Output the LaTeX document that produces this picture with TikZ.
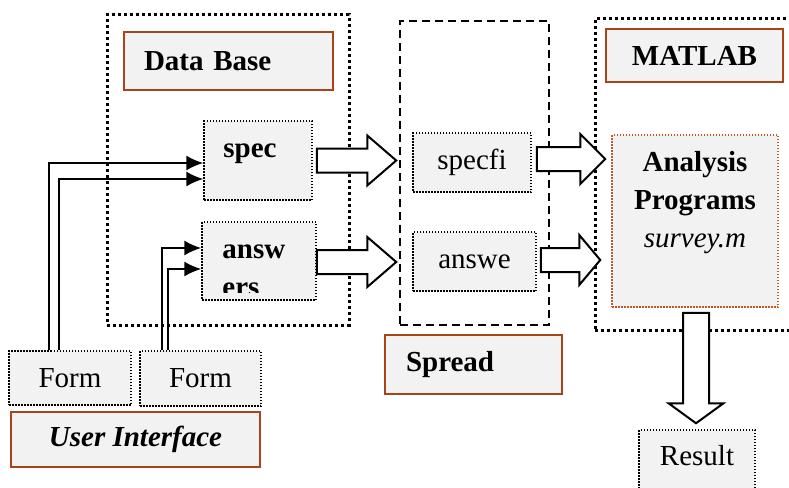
\documentclass[tikz,border=0pt]{standalone}
\usepackage{fontspec}
\setmainfont{Liberation Serif}
\usepackage{tikz}
\usetikzlibrary{calc,arrows.meta,positioning}
\definecolor{boxgray}{RGB}{242,242,242}
\definecolor{rust}{RGB}{168,68,24}
\definecolor{rustlight}{RGB}{196,88,36}
% fat arrow to the right: start, tip, head length
\newcommand{\fatright}[3]{%
  \draw[fat] let \p1=(#1), \p2=(#2) in
    (\x1,\y1+12pt) -- (\x2-#3pt,\y1+12pt) -- (\x2-#3pt,\y1+25pt) -- (\x2,\y1)
    -- (\x2-#3pt,\y1-25pt) -- (\x2-#3pt,\y1-12pt) -- (\x1,\y1-12pt) -- cycle;}
% fat arrow downwards: start, tip, head length
\newcommand{\fatdown}[3]{%
  \draw[fat] let \p1=(#1), \p2=(#2) in
    (\x1-13pt,\y1) -- (\x1-13pt,\y2+#3pt) -- (\x1-27.5pt,\y2+#3pt) -- (\x1,\y2)
    -- (\x1+27.5pt,\y2+#3pt) -- (\x1+13pt,\y2+#3pt) -- (\x1+13pt,\y1) -- cycle;}

\begin{document}
\begin{tikzpicture}[x=1pt, y=-1pt,
        line join=miter,
        txt/.style={font=\fontsize{29}{38}\selectfont, inner sep=0pt},
        frame/.style={draw, line width=3pt, dash pattern=on 3pt off 3pt},
        dframe/.style={draw, line width=2pt, dash pattern=on 8pt off 5pt},
        cell/.style={txt, draw, fill=boxgray, line width=1.5pt, dash pattern=on 1.5pt off 1.5pt},
        lbl/.style={txt, draw=rust, fill=boxgray, line width=2pt, font=\fontsize{29}{38}\selectfont\bfseries},
        feed/.style={line width=1.6pt, -{Latex[length=17pt,width=15pt]}},
        fat/.style={draw, fill=white, line width=2pt}]
    \clip (0,0) rectangle (789,487);

    % DATA BASE
    \node[frame, minimum width=242, minimum height=310] (dbframe) at (228,170) {};
    \node[lbl, text width=169, inner xsep=20, minimum height=58, align=left] (dblabel) at (228.5,61) {Data Base};
    \node[cell, minimum width=108, minimum height=79] (spec) at (258,160.5) {};
    \node[txt, font=\fontsize{29}{38}\selectfont\bfseries, anchor=base west] (spec-t) at ($(spec.west)+(20,-3.5)$) {spec};
    \node[cell, minimum width=114, minimum height=78] (answers) at (259,261) {};
    \begin{scope}
        \clip ($(answers.north west)+(2,2)$) rectangle ($(answers.south east)+(-2,-8)$);
        \node[txt, font=\fontsize{29}{38}\selectfont\bfseries, anchor=base west] (answers-t) at ($(answers.west)+(21,-3)$) {answ};
        \node[txt, font=\fontsize{29}{38}\selectfont\bfseries, anchor=base west] (answers-u) at ($(answers-t.base west)+(0,38)$) {ers};
    \end{scope}

    % USER INTERFACE
    \node[cell, minimum width=122, minimum height=54] (form1) at (70,378) {Form};
    \node[cell, minimum width=121, minimum height=55] (form2) at (200.5,378.5) {Form};
    \node[lbl, minimum width=249, minimum height=55, font=\fontsize{29}{38}\selectfont\bfseries\itshape] (uilabel) at (135.5,439.5) {User Interface};

    % SPREAD
    \node[dframe, minimum width=149, minimum height=304] (spreadframe) at (474.5,173) {};
    \node[cell, minimum width=118, minimum height=59] (specfi) at (472,162.5) {specfi};
    \node[cell, minimum width=123, minimum height=59] (answe) at (474.5,261.5) {answe};
    \node[lbl, text width=135, inner xsep=21, minimum height=59, align=left] (spreadlabel) at (473.5,364.5) {Spread};

    % MATLAB
    \node[frame, minimum width=210, minimum height=311] (mframe) at (700,174.5) {};
    \node[lbl, minimum width=177, minimum height=53] (mlabel) at (694.5,55.5) {MATLAB};
    \node[cell, draw=rustlight, minimum width=166, minimum height=172] (prog) at (695,221) {};
    \node[txt, align=center, anchor=north] (prog-t) at ($(prog.north)+(0,17)$)
        {\textbf{Analysis}\\\textbf{Programs}\\\textit{survey.m}};
    \node[cell, minimum width=116, minimum height=80] (result) at (697,470) {};
    \node[txt] (result-t) at ($(result.north)+(0,26)$) {Result};

    % form inputs
    \draw[feed] ($(form1.north)+(-21,0)$) |- ($(spec.west)+(0,2.5)$);
    \draw[feed] ($(form1.north)+(-11,0)$) |- ($(spec.west)+(0,18.5)$);
    \draw[feed] ($(form2.north)+(-38.5,0)$) |- ($(answers.west)+(0,-13)$);
    \draw[feed] ($(form2.north)+(-32.5,0)$) |- ($(answers.west)+(0,8)$);

    % fat arrows
    \coordinate (a1s) at ($(spec.east)+(4,0)$);
    \coordinate (a1e) at ($(specfi.west |- a1s)+(-16,0)$);
    \coordinate (a2s) at ($(answers.east)+(0,1)$);
    \coordinate (a2e) at ($(answe.west |- a2s)+(-16,0)$);
    \coordinate (a3s) at ($(specfi.east)+(5,-3.5)$);
    \coordinate (a3e) at ($(prog.west |- a3s)+(-6,0)$);
    \coordinate (a4s) at ($(answe.east)+(4,-1.5)$);
    \coordinate (a4e) at ($(prog.west |- a4s)+(-11,0)$);
    \coordinate (a5s) at ($(prog.south)+(1,5)$);
    \coordinate (a5e) at ($(result.north -| a5s)+(0,-6)$);
    \fatright{a1s}{a1e}{29}
    \fatright{a2s}{a2e}{29}
    \fatright{a3s}{a3e}{25}
    \fatright{a4s}{a4e}{21}
    \fatdown{a5s}{a5e}{20}
\end{tikzpicture}
\end{document}
